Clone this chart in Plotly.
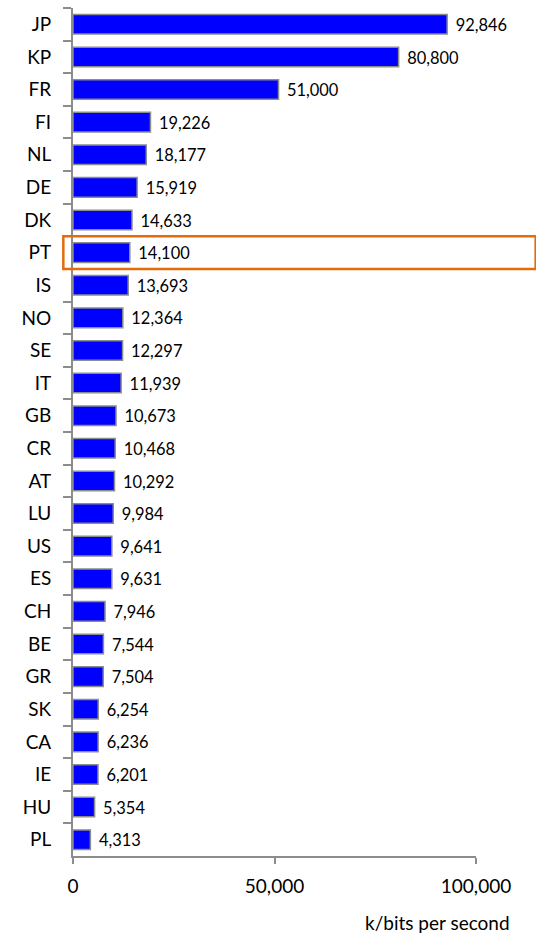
import plotly.graph_objects as go

countries = ["JP", "KP", "FR", "FI", "NL", "DE", "DK", "PT", "IS", "NO", "SE", "IT", "GB",
             "CR", "AT", "LU", "US", "ES", "CH", "BE", "GR", "SK", "CA", "IE", "HU", "PL"]
speeds = [92846, 80800, 51000, 19226, 18177, 15919, 14633, 14100, 13693, 12364, 12297, 11939,
          10673, 10468, 10292, 9984, 9641, 9631, 7946, 7544, 7504, 6254, 6236, 6201, 5354, 4313]
x_ticks = [0, 50000, 100000]
x_tick_labels = ["0", "50,000", "100,000"]
highlight = "PT"

FONT = "Lato"
FS = 19
FS_VAL = 21

fig = go.Figure(go.Bar(
    y=countries, x=speeds, orientation="h",
    marker=dict(color="#0000FF", line=dict(color="#8C8C8C", width=1.5)),
    text=["\u2004" + "{:,}".format(v) for v in speeds], textposition="outside",
    textfont=dict(family=FONT, size=FS_VAL, color="#000000"),
    cliponaxis=False, hoverinfo="skip",
))

hi = countries.index(highlight)
fig.add_shape(type="rect", xref="paper", yref="y",
              x0=-0.024, x1=1.148, y0=hi - 0.5, y1=hi + 0.5,
              line=dict(color="#E46C0A", width=2.5))

fig.update_layout(
    width=536, height=933,
    margin=dict(l=73, r=60, t=8, b=77, autoexpand=False),
    paper_bgcolor="white", plot_bgcolor="white",
    bargap=0.4, showlegend=False,
    font=dict(family=FONT, size=FS, color="#000000"),
    annotations=[dict(text="k/bits per second", xref="paper", yref="paper",
                      x=1.09, y=0, yshift=-66, xanchor="right", yanchor="middle",
                      showarrow=False, font=dict(family=FONT, size=FS, color="#000000"))],
)
fig.update_xaxes(range=[0, 100000], tickvals=x_ticks, ticktext=x_tick_labels,
                 showgrid=False, zeroline=False, showline=True, linecolor="#8C8C8C",
                 linewidth=2, ticks="outside", ticklen=6, tickwidth=2, tickcolor="#8C8C8C",
                 ticklabelstandoff=6, automargin=False)
fig.update_yaxes(categoryorder="array", categoryarray=countries, autorange="reversed",
                 showgrid=False, showline=True, linecolor="#8C8C8C", linewidth=2,
                 ticks="outside", ticklen=8, tickwidth=2, tickcolor="#8C8C8C",
                 tickson="boundaries", ticklabelstandoff=16, automargin=False)

fig.write_html("out.html", config={"displayModeBar": False},
               post_script="document.body.style.margin='0';document.body.style.padding='0';")
